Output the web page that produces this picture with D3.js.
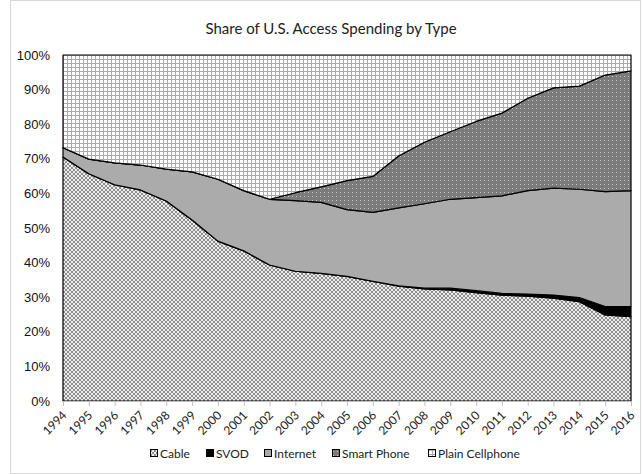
<!DOCTYPE html>
<html>
<head>
<meta charset="utf-8">
<script src="https://cdn.jsdelivr.net/npm/d3@7"></script>
<style>
  body { margin: 0; background: #fff; }
  svg { display: block; }
</style>
</head>
<body>
<script>
// values (percent share of each year)
const years = d3.range(1994, 2017).map(String);
const cable    = [70.5, 65.7, 62.5, 61.0, 57.8, 52.3, 46.2, 43.4, 39.3, 37.5, 36.9, 36.0, 34.6, 33.2, 32.4, 32.1, 31.3, 30.6, 30.3, 29.7, 28.7, 24.9, 24.4];
const svod     = [0, 0, 0, 0, 0, 0, 0, 0, 0, 0, 0, 0, 0, 0.1, 0.2, 0.5, 0.6, 0.5, 0.6, 0.9, 1.2, 2.4, 2.9];
const internet = [2.7, 4.2, 6.3, 7.2, 9.2, 13.9, 17.9, 17.4, 19.0, 20.4, 20.5, 19.3, 19.9, 22.5, 24.4, 25.7, 26.9, 28.2, 29.9, 30.9, 31.3, 33.2, 33.5];
const smart    = [0, 0, 0, 0, 0, 0, 0, 0, 0, 2.3, 4.5, 8.4, 10.4, 15.0, 17.8, 19.5, 22.0, 23.9, 26.7, 29.0, 29.8, 33.7, 34.6];
const plain    = [26.8, 30.1, 31.2, 31.8, 33.0, 33.8, 35.9, 39.2, 41.7, 39.8, 38.1, 36.3, 35.1, 29.2, 25.2, 22.2, 19.2, 16.8, 12.5, 9.5, 9.0, 5.8, 4.6];
const seriesNames = ["Cable", "SVOD", "Internet", "Smart Phone", "Plain Cellphone"];
const yTicks = d3.range(0, 101, 10);

const W = 642, H = 474;
const margin = { top: 55, right: 11, bottom: 73, left: 63 };
const width = W - margin.left - margin.right;
const height = H - margin.top - margin.bottom;

const rows = years.map((yr, i) => ({
    year: yr,
    "Cable": cable[i],
    "SVOD": svod[i],
    "Internet": internet[i],
    "Smart Phone": smart[i],
    "Plain Cellphone": plain[i],
}));
const stacked = d3.stack().keys(seriesNames)(rows);

const x = d3.scalePoint().domain(years).range([0, width]);
const y = d3.scaleLinear().domain([0, 100]).range([height, 0]);

const svg = d3.select("body").append("svg")
    .attr("width", W)
    .attr("height", H);

// patterns standing in for Excel's fills
const defs = svg.append("defs");
const pCable = defs.append("pattern").attr("id", "p-cable")
    .attr("patternUnits", "userSpaceOnUse").attr("width", 4).attr("height", 4);
pCable.append("rect").attr("width", 4).attr("height", 4).attr("fill", "#ececec");
pCable.append("rect").attr("width", 2).attr("height", 2).attr("fill", "#8f8f8f");
pCable.append("rect").attr("x", 2).attr("y", 2).attr("width", 2).attr("height", 2).attr("fill", "#8f8f8f");

const pSmart = defs.append("pattern").attr("id", "p-smart")
    .attr("patternUnits", "userSpaceOnUse").attr("width", 4).attr("height", 4);
pSmart.append("rect").attr("width", 4).attr("height", 4).attr("fill", "#7b7b7b");
pSmart.append("rect").attr("x", 1).attr("y", 1).attr("width", 1).attr("height", 1).attr("fill", "#c8c8c8");

const pPlain = defs.append("pattern").attr("id", "p-plain")
    .attr("patternUnits", "userSpaceOnUse").attr("width", 4).attr("height", 4);
pPlain.append("rect").attr("width", 4).attr("height", 4).attr("fill", "#ffffff");
pPlain.append("rect").attr("width", 4).attr("height", 1).attr("fill", "#ababab");
pPlain.append("rect").attr("width", 1).attr("height", 4).attr("fill", "#ababab");

const fills = {
    "Cable": "url(#p-cable)",
    "SVOD": "#000000",
    "Internet": "#ababab",
    "Smart Phone": "url(#p-smart)",
    "Plain Cellphone": "url(#p-plain)",
};

// outer chart frame
svg.append("rect")
    .attr("x", 10.5).attr("y", 0.5)
    .attr("width", W - 12).attr("height", H - 1)
    .attr("fill", "none").attr("stroke", "#d9d9d9");

svg.append("text")
    .attr("x", 331).attr("y", 34)
    .attr("text-anchor", "middle")
    .attr("font-family", "Lato, 'Open Sans', sans-serif")
    .attr("font-size", 15)
    .attr("fill", "#222")
    .text("Share of U.S. Access Spending by Type");

const g = svg.append("g")
    .attr("transform", `translate(${margin.left}, ${margin.top})`);

const area = d3.area()
    .x(d => x(d.data.year))
    .y0(d => y(d[0]))
    .y1(d => y(d[1]));

g.selectAll("path.layer")
    .data(stacked)
    .join("path")
    .attr("class", "layer")
    .attr("d", area)
    .attr("fill", d => fills[d.key])
    .attr("stroke", "#000")
    .attr("stroke-width", 1.2)
    .attr("stroke-linejoin", "round");

// y axis (labels only)
const yAxis = g.append("g")
    .call(d3.axisLeft(y).tickValues(yTicks).tickFormat(d => d + "%").tickSize(0).tickPadding(13));
yAxis.select(".domain").remove();
yAxis.selectAll("text")
    .attr("font-family", "'Liberation Sans', Arial, sans-serif")
    .attr("font-size", 13)
    .attr("fill", "#111");

// x axis, labels rotated and ending at the tick
const xAxis = g.append("g")
    .attr("transform", `translate(0, ${height})`)
    .call(d3.axisBottom(x).tickSize(5));
xAxis.select(".domain").attr("stroke", "#bfbfbf");
xAxis.selectAll(".tick line").attr("stroke", "#bfbfbf");
xAxis.selectAll("text")
    .attr("font-family", "Lato, 'Open Sans', sans-serif")
    .attr("font-size", 12)
    .attr("fill", "#222")
    .attr("text-anchor", "end")
    .attr("x", 0)
    .attr("y", 0)
    .attr("dy", "0.35em")
    .attr("transform", "translate(1, 12) rotate(-45)");

// legend
const legendX = [150, 206, 264, 332, 428];
const legend = svg.append("g").attr("transform", "translate(0, 454)");
const item = legend.selectAll("g")
    .data(seriesNames)
    .join("g")
    .attr("transform", (d, i) => `translate(${legendX[i]}, 0)`);
item.append("rect")
    .attr("x", 0.5).attr("y", -4.5)
    .attr("width", 7).attr("height", 7)
    .attr("fill", d => fills[d])
    .attr("stroke", "#000");
item.append("text")
    .attr("x", 10).attr("y", 4)
    .attr("font-family", "Lato, 'Open Sans', sans-serif")
    .attr("font-size", 12)
    .attr("fill", "#222")
    .text(d => d);
</script>
</body>
</html>
